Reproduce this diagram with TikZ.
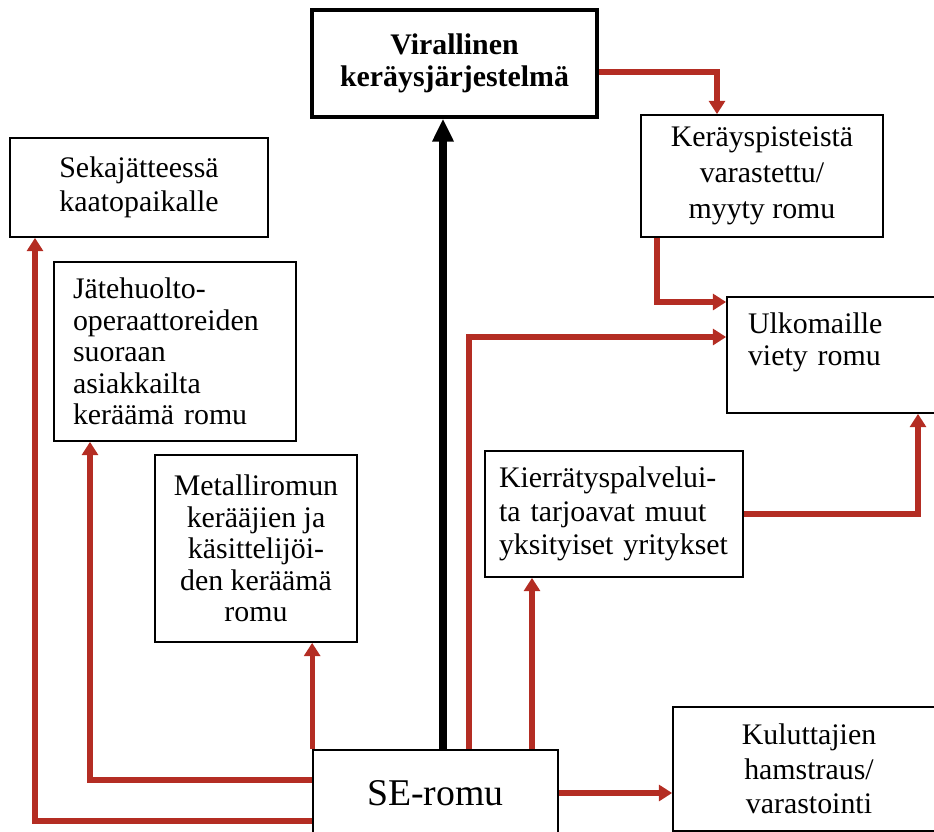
\documentclass[tikz,border=0pt]{standalone}
\usepackage{fontspec}
\setmainfont{Liberation Serif}
\usetikzlibrary{arrows.meta}
\hyphenpenalty=10000
\definecolor{flowred}{RGB}{180,45,35}
\tikzset{
  box/.style={draw, line width=1pt, inner sep=0pt, align=center,
    font=\fontsize{17}{18}\selectfont},
  leftbox/.style={box, align=left},
  flow/.style={draw=flowred, line width=2.9pt, -{Triangle[length=7.5pt,width=9pt]}},
  mainflow/.style={draw=black, line width=4pt, -{Triangle[length=13pt,width=11.5pt]}},
}
\begin{document}
\begin{tikzpicture}[x=0.02cm, y=-0.02cm]
\useasboundingbox (0,0) rectangle (934,832);
\clip (0,0) rectangle (934,832);

% Boxes
\node [box, line width=2pt, minimum width=5.7cm, minimum height=2.14cm,
  font=\fontsize{17}{18.5}\selectfont\bfseries] (vir) at (454.5,63.5) {Virallinen\\keräysjärjestelmä};
\node [box, minimum width=5.16cm, minimum height=1.98cm, font=\fontsize{17}{19}\selectfont] (seka) at (139,187.5) {Sekajätteessä\\kaatopaikalle};
\node [leftbox, inner xsep=0.38cm, text width=4.08cm, minimum height=3.58cm] (jate) at (175,351.5)
  {Jätehuolto-\\operaattoreiden\\suoraan\\asiakkailta\\keräämä romu};
\node [box, minimum width=4.04cm, minimum height=3.74cm] (metal) at (256,548.5)
  {Metalliromun\\kerääjien ja\\käsittelijöi-\\den keräämä\\romu};
\node [box, minimum width=4.84cm, minimum height=2.44cm, font=\fontsize{17}{20.5}\selectfont] (kera) at (762,176)
  {Keräyspisteistä\\varastettu/\\myyty romu};
\node [leftbox, inner xsep=0.42cm, text width=3.52cm, minimum height=2.32cm] (ulko) at (836,355)
  {Ulkomaille\\viety romu\\\mbox{}};
\node [leftbox, inner xsep=0.28cm, text width=4.6cm, minimum height=2.52cm, font=\fontsize{17}{19}\selectfont] (kierr) at (614,514)
  {Kierrätyspalvelui-\\ta tarjoavat muut\\yksityiset yritykset};
\node [box, minimum width=4.9cm, minimum height=1.72cm, font=\fontsize{21.5}{24}\selectfont] (se) at (435.5,793) {SE-romu};
\node [box, minimum width=5.44cm, minimum height=2.48cm, font=\fontsize{17}{19.5}\selectfont] (kulu) at (809,769)
  {Kuluttajien\\hamstraus/\\varastointi};

% Bend points
\coordinate (b1) at (443,0);
\coordinate (v1) at (717,72);
\coordinate (k1) at (657,302);
\coordinate (s1) at (469,337);
\coordinate (s2) at (532,0);
\coordinate (u1) at (918,0);
\coordinate (j1) at (90,780);
\coordinate (j2) at (35,821);

% Connectors
\draw [mainflow] (se.north -| b1) -- (vir.south -| b1);
\draw [flow] (vir.east |- v1) -| (v1 |- kera.north);
\draw [flow] (kera.south -| k1) |- (ulko.west |- k1);
\draw [flow] (se.north -| s1) |- (ulko.west |- s1);
\draw [flow] (se.north -| s2) -- (kierr.south -| s2);
\draw [flow] (kierr.east) -| (ulko.south -| u1);
\draw [flow] (se.west |- j1) -| (jate.south -| j1);
\draw [flow] (se.west |- j2) -| (seka.south -| j2);
\draw [flow] (se.north west) -- (se.north west |- metal.south);
\draw [flow] (se.east) -- (kulu.west |- se.east);
\end{tikzpicture}
\end{document}
